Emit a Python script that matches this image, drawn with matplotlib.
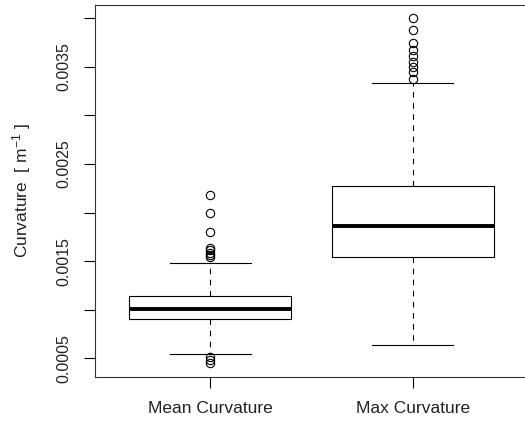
import matplotlib
matplotlib.use("Agg")
import matplotlib.pyplot as plt

plt.rcParams['font.family'] = ['Liberation Sans', 'DejaVu Sans']
plt.rcParams['mathtext.fontset'] = 'custom'
plt.rcParams['mathtext.rm'] = 'Liberation Sans'
plt.rcParams['mathtext.it'] = 'Liberation Sans'

# valores
nomes = ["Mean Curvature", "Max Curvature"]
medianas = [0.00101, 0.001859]
q1 = [0.000908, 0.001546]
q3 = [0.001141, 0.002274]
bigode_inf = [0.000541, 0.000637]
bigode_sup = [0.001478, 0.003337]
outliers_mean = [0.002181, 0.001993, 0.001803, 0.001632, 0.00161, 0.001587,
                 0.001563, 0.001543, 0.000513, 0.000482, 0.00045]
outliers_max = [0.004, 0.00388, 0.003743, 0.003674, 0.003612, 0.003553,
                0.003502, 0.00345, 0.003372]
outliers = [outliers_mean, outliers_max]

yticks = [0.0005, 0.001, 0.0015, 0.002, 0.0025, 0.003, 0.0035, 0.004]
ylabels = ["0.0005", "", "0.0015", "", "0.0025", "", "0.0035", ""]

stats = []
for i in range(len(nomes)):
    stats.append({
        'label': nomes[i],
        'med': medianas[i],
        'q1': q1[i],
        'q3': q3[i],
        'whislo': bigode_inf[i],
        'whishi': bigode_sup[i],
        'fliers': outliers[i],
    })

fig = plt.figure(figsize=(5.25, 4.23), dpi=100)
ax = fig.add_axes([95 / 525, 1 - 377 / 423, 433 / 525, 372 / 423])

ax.bxp(stats, positions=[1, 2], widths=0.8,
       boxprops=dict(color='black', linewidth=0.8),
       medianprops=dict(color='black', linewidth=2.8, solid_capstyle='butt'),
       whiskerprops=dict(color='black', linewidth=0.8, linestyle=(0, (5, 5))),
       capprops=dict(color='black', linewidth=0.8),
       capwidths=0.4,
       flierprops=dict(marker='o', markerfacecolor='none', markeredgecolor='black',
                       markersize=6, markeredgewidth=0.8))

ax.set_xlim(0.43, 2.57)
ax.set_ylim(0.000307, 0.004137)
ax.set_yticks(yticks)
ax.set_yticklabels(ylabels, rotation=90, va='center', fontsize=11.5, color='#222222')
ax.set_xticks([1, 2])
ax.set_xticklabels(nomes, fontsize=12.5, color='#222222')
ax.tick_params(direction='out', length=8, width=0.8, color='black', pad=9)
ax.tick_params(axis='x', pad=9)
ax.set_ylabel("Curvature  [ m$^{-1}$ ]", fontsize=12.5, labelpad=17, color='#222222')

for s in ax.spines.values():
    s.set_linewidth(0.8)
    s.set_color('#333333')

fig.savefig("out.png", dpi=100)
